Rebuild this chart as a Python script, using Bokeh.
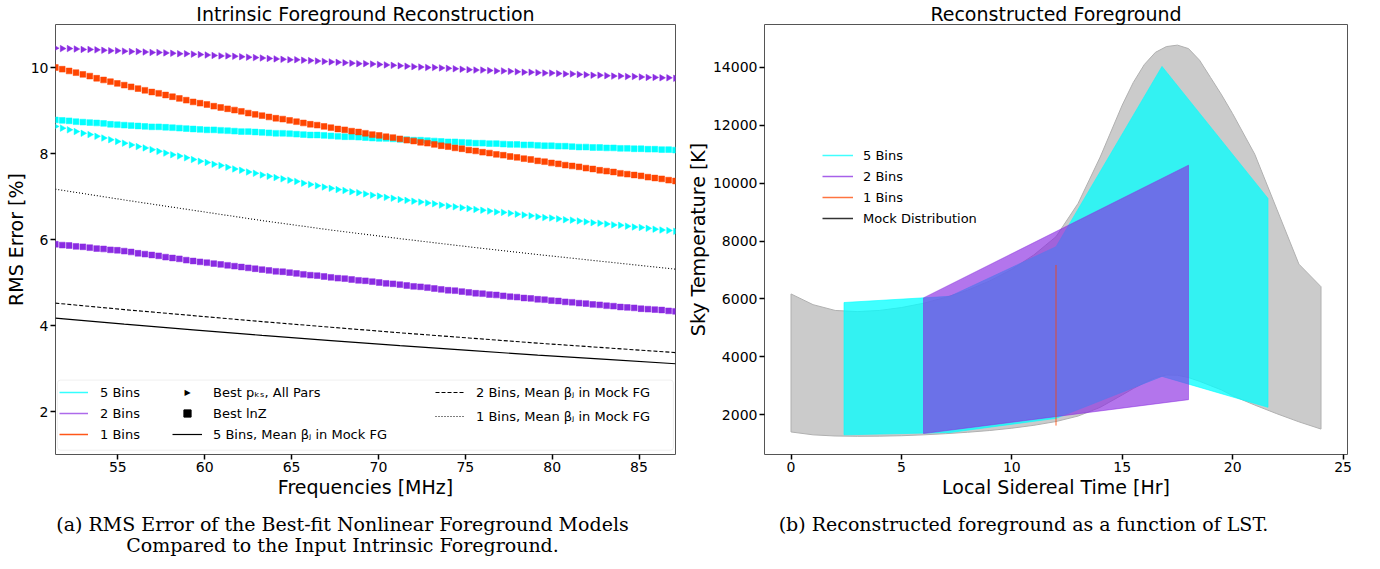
import numpy as np
from math import pi
from bokeh.plotting import figure
from bokeh.layouts import row, column
from bokeh.models import (Range1d, Legend, LegendItem, BoxAnnotation, Label,
                          FixedTicker)
from bokeh.embed import file_html
from bokeh.resources import INLINE

# ---------------- data: panel (a) ----------------
freq = np.linspace(51.4, 87.1, 91)  # frequency channels [MHz]

rms_5bins_pks = [8.63, 8.59, 8.55, 8.51, 8.47, 8.44, 8.40, 8.36, 8.32, 8.28, 8.24,
                 8.20, 8.16, 8.13, 8.09, 8.05, 8.01, 7.97, 7.94, 7.90, 7.86,
                 7.82, 7.79, 7.75, 7.72, 7.68, 7.64, 7.61, 7.57, 7.54, 7.50,
                 7.47, 7.44, 7.41, 7.38, 7.35, 7.31, 7.28, 7.25, 7.22, 7.19,
                 7.16, 7.14, 7.11, 7.09, 7.06, 7.03, 7.01, 6.98, 6.96, 6.93,
                 6.91, 6.89, 6.87, 6.85, 6.83, 6.80, 6.78, 6.76, 6.74, 6.72,
                 6.70, 6.68, 6.66, 6.64, 6.63, 6.61, 6.59, 6.57, 6.55, 6.53,
                 6.51, 6.50, 6.48, 6.46, 6.45, 6.43, 6.41, 6.39, 6.38, 6.36,
                 6.34, 6.33, 6.31, 6.29, 6.28, 6.26, 6.24, 6.22, 6.21, 6.19]
rms_5bins_lnz = [8.78, 8.77, 8.76, 8.74, 8.73, 8.72, 8.71, 8.70, 8.68, 8.67, 8.66,
                 8.65, 8.64, 8.63, 8.62, 8.62, 8.61, 8.60, 8.59, 8.58, 8.57,
                 8.56, 8.55, 8.55, 8.54, 8.53, 8.52, 8.51, 8.51, 8.50, 8.49,
                 8.48, 8.47, 8.47, 8.46, 8.45, 8.44, 8.43, 8.43, 8.42, 8.41,
                 8.40, 8.39, 8.39, 8.38, 8.37, 8.36, 8.35, 8.35, 8.34, 8.33,
                 8.32, 8.31, 8.31, 8.30, 8.29, 8.28, 8.27, 8.27, 8.26, 8.25,
                 8.24, 8.24, 8.23, 8.23, 8.22, 8.21, 8.21, 8.20, 8.20, 8.19,
                 8.18, 8.18, 8.17, 8.17, 8.16, 8.15, 8.15, 8.14, 8.14, 8.13,
                 8.13, 8.12, 8.12, 8.11, 8.11, 8.10, 8.10, 8.09, 8.09, 8.08]
rms_2bins_pks = [10.45, 10.44, 10.44, 10.43, 10.42, 10.42, 10.41, 10.40, 10.39, 10.39, 10.38,
                 10.37, 10.37, 10.36, 10.35, 10.35, 10.34, 10.33, 10.32, 10.32, 10.31,
                 10.30, 10.29, 10.28, 10.27, 10.27, 10.26, 10.25, 10.24, 10.23, 10.22,
                 10.21, 10.20, 10.19, 10.18, 10.18, 10.17, 10.16, 10.15, 10.14, 10.13,
                 10.12, 10.11, 10.10, 10.09, 10.09, 10.08, 10.07, 10.06, 10.05, 10.04,
                 10.03, 10.02, 10.01, 10.00, 10.00, 9.99, 9.98, 9.97, 9.96, 9.95,
                 9.94, 9.94, 9.93, 9.92, 9.92, 9.91, 9.90, 9.89, 9.89, 9.88,
                 9.87, 9.87, 9.86, 9.85, 9.85, 9.84, 9.83, 9.82, 9.82, 9.81,
                 9.80, 9.80, 9.79, 9.79, 9.78, 9.77, 9.77, 9.76, 9.76, 9.75]
rms_2bins_lnz = [5.89, 5.87, 5.86, 5.84, 5.83, 5.81, 5.79, 5.78, 5.76, 5.75, 5.73,
                 5.71, 5.68, 5.66, 5.64, 5.62, 5.59, 5.57, 5.55, 5.52, 5.50,
                 5.48, 5.46, 5.44, 5.42, 5.40, 5.38, 5.36, 5.34, 5.32, 5.30,
                 5.28, 5.26, 5.25, 5.23, 5.21, 5.19, 5.17, 5.16, 5.14, 5.12,
                 5.10, 5.09, 5.07, 5.05, 5.04, 5.02, 5.00, 4.98, 4.97, 4.95,
                 4.93, 4.91, 4.90, 4.88, 4.86, 4.84, 4.82, 4.81, 4.79, 4.77,
                 4.75, 4.74, 4.72, 4.71, 4.69, 4.67, 4.66, 4.64, 4.63, 4.61,
                 4.60, 4.58, 4.57, 4.55, 4.54, 4.52, 4.51, 4.49, 4.48, 4.46,
                 4.45, 4.43, 4.42, 4.41, 4.39, 4.38, 4.37, 4.36, 4.34, 4.33]
rms_1bins_lnz = [10.00, 9.96, 9.92, 9.88, 9.84, 9.80, 9.75, 9.71, 9.67, 9.63, 9.59,
                 9.55, 9.51, 9.47, 9.43, 9.40, 9.36, 9.32, 9.28, 9.24, 9.20,
                 9.17, 9.14, 9.10, 9.07, 9.04, 9.01, 8.98, 8.94, 8.91, 8.88,
                 8.85, 8.82, 8.80, 8.77, 8.74, 8.71, 8.68, 8.66, 8.63, 8.60,
                 8.57, 8.55, 8.52, 8.50, 8.47, 8.44, 8.42, 8.39, 8.37, 8.34,
                 8.31, 8.29, 8.26, 8.24, 8.21, 8.18, 8.16, 8.13, 8.11, 8.08,
                 8.06, 8.03, 8.01, 7.98, 7.96, 7.93, 7.91, 7.88, 7.86, 7.83,
                 7.81, 7.78, 7.76, 7.73, 7.71, 7.69, 7.66, 7.64, 7.61, 7.59,
                 7.57, 7.54, 7.52, 7.50, 7.48, 7.45, 7.43, 7.41, 7.38, 7.36]

freq_mock = list(freq[::10])
mock_mean_5bins = [4.17, 4.03, 3.90, 3.77, 3.65, 3.53, 3.42, 3.31, 3.21, 3.11]
mock_mean_2bins = [4.52, 4.37, 4.23, 4.09, 3.96, 3.83, 3.71, 3.59, 3.48, 3.37]
mock_mean_1bins = [7.17, 6.92, 6.68, 6.44, 6.22, 6.02, 5.83, 5.65, 5.48, 5.31]

ticks_a_x = [55, 60, 65, 70, 75, 80, 85]
ticks_a_y = [2, 4, 6, 8, 10]

# ---------------- data: panel (b) ----------------
lst_mock = [0, 1, 2, 3, 4, 5, 6, 7, 8, 9, 10, 11, 12, 13, 14, 15, 15.5, 16, 16.5,
            17, 17.5, 18, 18.5, 19, 19.5, 20, 21, 22, 23, 24]
mock_hi = [6170, 5800, 5600, 5560, 5600, 5700, 5850, 6050, 6300, 6620, 7020, 7520,
           8150, 9300, 10900, 12700, 13480, 14100, 14520, 14720, 14770, 14650,
           14250, 13650, 13050, 12400, 11000, 9100, 7200, 6420]
mock_lo = [1400, 1300, 1260, 1250, 1255, 1270, 1300, 1340, 1390, 1450, 1530, 1630,
           1760, 1950, 2250, 2680, 2900, 3100, 3280, 3370, 3360, 3280, 3150, 3000,
           2850, 2650, 2330, 2030, 1750, 1500]

lst_5bins = [2.4, 7.2, 12.0, 16.8, 21.6]
lo_5bins = [1300, 1380, 1870, 3321, 2252]
hi_5bins = [5874, 6090, 7803, 14034, 9472]
lst_2bins = [6.0, 18.0]
lo_2bins = [1345, 2517]
hi_2bins = [6034, 10620]
lst_1bins = [12.0]
lo_1bins = [1621]
hi_1bins = [7172]

ticks_b_x = [0, 5, 10, 15, 20, 25]
ticks_b_y = [2000, 4000, 6000, 8000, 10000, 12000, 14000]

caption_a = ["(a) RMS Error of the Best-fit Nonlinear Foreground Models",
             "Compared to the Input Intrinsic Foreground."]
caption_b = ["(b) Reconstructed foreground as a function of LST."]

CYAN = "#00ffff"
PURPLE = "#8a2be2"
RED = "#ff4500"
FONT = "DejaVu Sans"
NAN = [float("nan")]


def style(p, xlabel, ylabel):
    p.outline_line_color = "#555555"
    p.outline_line_width = 1
    p.xgrid.visible = False
    p.ygrid.visible = False
    for ax in (p.xaxis, p.yaxis):
        ax.axis_line_color = None
        ax.major_tick_out = 5
        ax.major_tick_in = 0
        ax.major_tick_line_width = 1.5
        ax.major_tick_line_color = "black"
        ax.minor_tick_line_color = None
        ax.major_label_text_font = FONT
        ax.major_label_text_font_size = "14px"
        ax.major_label_text_color = "black"
        ax.major_label_standoff = 2
        ax.axis_label_text_font = FONT
        ax.axis_label_text_font_size = "19px"
        ax.axis_label_text_font_style = "normal"
        ax.axis_label_text_color = "black"
        ax.axis_label_standoff = 1
    p.xaxis.axis_label = xlabel
    p.yaxis.axis_label = ylabel
    p.title.text_font = FONT
    p.title.text_font_size = "19px"
    p.title.text_font_style = "normal"
    p.title.text_color = "black"
    p.title.align = "center"
    p.title.standoff = 0


def legend(items, loc, spacing=3, gw=29, standoff=12):
    return Legend(items=items, location=loc, label_text_font=FONT,
                  label_text_font_size="13px", label_text_color="black",
                  glyph_width=gw, glyph_height=18, label_height=18, spacing=spacing,
                  padding=4, margin=0, label_standoff=standoff, border_line_alpha=0,
                  background_fill_alpha=0)


# ---------------- panel (a) ----------------
p1 = figure(width=683, height=504, x_range=Range1d(51.41, 87.10),
            y_range=Range1d(1, 11), output_backend="svg", toolbar_location=None,
            title="Intrinsic Foreground Reconstruction",
            min_border_left=55, min_border_right=8, min_border_top=0, min_border_bottom=46)
style(p1, "Frequencies [MHz]", "RMS Error [%]")
p1.xaxis.ticker = FixedTicker(ticks=ticks_a_x)
p1.yaxis.ticker = FixedTicker(ticks=ticks_a_y)

p1.line(freq_mock, mock_mean_5bins, line_color="black", line_width=1.2)
p1.line(freq_mock, mock_mean_2bins, line_color="black", line_width=1.1, line_dash="4 2")
p1.line(freq_mock, mock_mean_1bins, line_color="black", line_width=1.1, line_dash="1 2")

for ys, col, mk in [(rms_5bins_pks, CYAN, "tri"), (rms_5bins_lnz, CYAN, "sq"),
                    (rms_2bins_pks, PURPLE, "tri"), (rms_2bins_lnz, PURPLE, "sq"),
                    (rms_1bins_lnz, RED, "sq")]:
    if mk == "tri":
        p1.scatter(freq, ys, marker="triangle", angle=-pi / 2, size=6.5,
                   fill_color=col, line_color=col, line_width=0.5)
    else:
        p1.scatter(freq, ys, marker="square", size=5.8,
                   fill_color=col, line_color=col, line_width=0.5)

box = BoxAnnotation(left=51.52, right=86.98, bottom=1.1, top=2.73,
                    fill_color="white", fill_alpha=0.8, line_color="#cccccc",
                    line_width=1, border_radius=3)
p1.add_layout(box)

lg_c = p1.line(x=NAN, y=NAN, line_color=CYAN, line_width=1.5, line_alpha=0.8)
lg_p = p1.line(x=NAN, y=NAN, line_color=PURPLE, line_width=1.5, line_alpha=0.7)
lg_r = p1.line(x=NAN, y=NAN, line_color=RED, line_width=1.5, line_alpha=0.9)
lg_tri = p1.scatter(x=NAN, y=NAN, marker="square", size=1, alpha=0)
lg_sq = p1.scatter(x=NAN, y=NAN, marker="square", size=6, color="black")
lg_solid = p1.line(x=NAN, y=NAN, line_color="black", line_width=1.2)
lg_dash = p1.line(x=NAN, y=NAN, line_color="black", line_width=1.1, line_dash="4 2")
lg_dot = p1.line(x=NAN, y=NAN, line_color="black", line_width=1.1, line_dash="1 2")

p1.add_layout(legend([LegendItem(label="5 Bins", renderers=[lg_c]),
                      LegendItem(label="2 Bins", renderers=[lg_p]),
                      LegendItem(label="1 Bins", renderers=[lg_r])], (0, 7)))
p1.add_layout(legend([LegendItem(label="Best pₖₛ, All Pars", renderers=[lg_tri]),
                      LegendItem(label="Best lnZ", renderers=[lg_sq]),
                      LegendItem(label="5 Bins, Mean βⱼ in Mock FG", renderers=[lg_solid])],
                     (113, 7), gw=30, standoff=11))
p1.add_layout(legend([LegendItem(label="2 Bins, Mean βⱼ in Mock FG", renderers=[lg_dash]),
                      LegendItem(label="1 Bins, Mean βⱼ in Mock FG", renderers=[lg_dot])],
                     (376, 25), spacing=6, gw=30, standoff=11))
# right-pointing triangle legend glyph (legend glyphs are not rotated by Bokeh)
p1.add_layout(Label(x=132, y=62, x_units="screen", y_units="screen", text="▶",
                    text_font=FONT, text_font_size="8px", text_color="black",
                    text_align="center", text_baseline="middle"))

# ---------------- panel (b) ----------------
p2 = figure(width=681, height=504, x_range=Range1d(-1.2, 25.2),
            y_range=Range1d(621, 15483), output_backend="svg", toolbar_location=None,
            title="Reconstructed Foreground",
            min_border_left=79, min_border_right=17, min_border_top=0, min_border_bottom=50)
style(p2, "Local Sidereal Time [Hr]", "Sky Temperature [K]")
p2.xaxis.ticker = FixedTicker(ticks=ticks_b_x)
p2.yaxis.ticker = FixedTicker(ticks=ticks_b_y)

p2.patch(lst_mock + lst_mock[::-1], mock_hi + mock_lo[::-1], fill_color="#cbcbcb",
         line_color="#b0b0b0", line_width=1)
p2.patch(lst_5bins + lst_5bins[::-1], hi_5bins + lo_5bins[::-1], fill_color=CYAN,
         fill_alpha=0.75, line_color=CYAN, line_alpha=0.6, line_width=1)
p2.patch(lst_2bins + lst_2bins[::-1], hi_2bins + lo_2bins[::-1], fill_color=PURPLE,
         fill_alpha=0.65, line_color=PURPLE, line_alpha=0.5, line_width=1)
p2.segment(x0=lst_1bins, y0=lo_1bins, x1=lst_1bins, y1=hi_1bins, line_color=RED,
           line_width=1, line_alpha=0.8)

r_c = p2.line(x=NAN, y=NAN, line_color=CYAN, line_width=1.5, line_alpha=0.75)
r_p = p2.line(x=NAN, y=NAN, line_color=PURPLE, line_width=1.5, line_alpha=0.75)
r_r = p2.line(x=NAN, y=NAN, line_color=RED, line_width=1.5, line_alpha=0.75)
r_k = p2.line(x=NAN, y=NAN, line_color="black", line_width=1.5, line_alpha=0.8)
p2.add_layout(legend([LegendItem(label="5 Bins", renderers=[r_c]),
                      LegendItem(label="2 Bins", renderers=[r_p]),
                      LegendItem(label="1 Bins", renderers=[r_r]),
                      LegendItem(label="Mock Distribution", renderers=[r_k])],
                     (54, 223), gw=31, standoff=10))

# ---------------- captions (own strip below both panels) ----------------
p3 = figure(width=1364, height=54, x_range=Range1d(0, 1), y_range=Range1d(0, 1),
            output_backend="svg", toolbar_location=None, min_border=0)
p3.axis.visible = False
p3.grid.visible = False
p3.outline_line_color = None
CAPSTYLE = dict(x_units="screen", y_units="screen", text_font="DejaVu Serif",
                text_font_size="19px", text_color="black", text_align="center",
                text_baseline="middle")
p3.add_layout(Label(x=342, y=35, text=caption_a[0], **CAPSTYLE))
p3.add_layout(Label(x=342, y=14, text=caption_a[1], **CAPSTYLE))
p3.add_layout(Label(x=1023, y=35, text=caption_b[0], **CAPSTYLE))

layout = column(row(p1, p2), p3)
open("out.html", "w").write(file_html(layout, INLINE))
